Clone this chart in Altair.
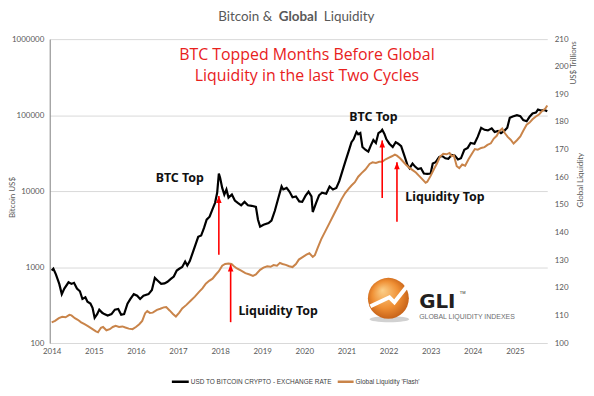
import altair as alt
import pandas as pd

# ---------------- data ----------------
btc_year = [2014.00, 2014.04, 2014.10, 2014.18, 2014.24, 2014.30, 2014.40, 2014.47, 2014.53, 2014.60,
            2014.67, 2014.73, 2014.80, 2014.85, 2014.92, 2014.97, 2015.02, 2015.08, 2015.13, 2015.20,
            2015.25, 2015.33, 2015.42, 2015.50, 2015.58, 2015.65, 2015.72, 2015.80, 2015.87, 2015.95,
            2016.03, 2016.10, 2016.18, 2016.30, 2016.38, 2016.45, 2016.52, 2016.60, 2016.68, 2016.75,
            2016.83, 2016.90, 2016.97, 2017.03, 2017.10, 2017.17, 2017.22, 2017.28, 2017.35, 2017.42,
            2017.48, 2017.55, 2017.62, 2017.68, 2017.75, 2017.82, 2017.88, 2017.93, 2017.97, 2018.00,
            2018.05, 2018.10, 2018.15, 2018.20, 2018.28, 2018.35, 2018.42, 2018.50, 2018.58, 2018.66,
            2018.75, 2018.85, 2018.90, 2018.95, 2019.03, 2019.15, 2019.22, 2019.30, 2019.38, 2019.46,
            2019.50, 2019.58, 2019.65, 2019.72, 2019.80, 2019.88, 2019.95, 2020.03, 2020.10, 2020.17,
            2020.20, 2020.28, 2020.35, 2020.42, 2020.52, 2020.60, 2020.68, 2020.76, 2020.83, 2020.90,
            2020.97, 2021.05, 2021.12, 2021.17, 2021.24, 2021.28, 2021.33, 2021.38, 2021.45, 2021.52,
            2021.58, 2021.64, 2021.70, 2021.76, 2021.82, 2021.85, 2021.90, 2021.95, 2022.02, 2022.10,
            2022.17, 2022.23, 2022.30, 2022.37, 2022.45, 2022.50, 2022.57, 2022.63, 2022.70, 2022.77,
            2022.84, 2022.92, 2023.00, 2023.05, 2023.12, 2023.20, 2023.27, 2023.35, 2023.42, 2023.50,
            2023.57, 2023.65, 2023.72, 2023.80, 2023.88, 2023.95, 2024.04, 2024.12, 2024.20, 2024.28,
            2024.36, 2024.45, 2024.52, 2024.60, 2024.67, 2024.75, 2024.82, 2024.88, 2024.95, 2025.05,
            2025.13, 2025.20, 2025.28, 2025.35, 2025.42, 2025.50, 2025.55, 2025.62, 2025.70, 2025.77]
btc_usd = [900, 950, 800, 600, 440, 520, 630, 600, 620, 520,
           480, 380, 400, 350, 330, 290, 215, 240, 275, 250,
           240, 230, 240, 275, 280, 235, 240, 330, 380, 440,
           420, 380, 420, 440, 500, 720, 660, 600, 610, 640,
           700, 750, 900, 950, 1000, 1180, 1050, 1200, 1550, 2000,
           2500, 2600, 3300, 4200, 4600, 5800, 7000, 9500, 17000, 15000,
           11000, 9000, 10500, 8200, 9000, 7500, 7000, 6500, 7200, 6500,
           6400, 6200, 4200, 3400, 3600, 3800, 4100, 5500, 8000, 11500,
           10500, 11000, 9800, 8300, 8500, 7300, 7200, 8700, 9800, 8500,
           5300, 7000, 8800, 9500, 9200, 11500, 10500, 11000, 13500, 18000,
           24000, 33000, 44000, 48000, 60000, 56000, 58000, 38000, 35000, 33000,
           40000, 47000, 43000, 58000, 61000, 64000, 57000, 48000, 42000, 38000,
           44000, 42000, 39000, 30000, 22000, 20000, 23000, 21000, 19500, 20000,
           17000, 16800, 17000, 23000, 24000, 28000, 29000, 27000, 26500, 30000,
           29500, 26000, 27000, 35000, 37000, 43000, 42000, 52000, 68000, 64000,
           63000, 67000, 60000, 62000, 58000, 62000, 68000, 92000, 96000, 100000,
           97000, 86000, 83000, 95000, 105000, 108000, 118000, 115000, 117000, 112000]

liq_year = [2014.00, 2014.08, 2014.17, 2014.25, 2014.33, 2014.42, 2014.47, 2014.55, 2014.62, 2014.70,
            2014.78, 2014.87, 2014.97, 2015.05, 2015.10, 2015.17, 2015.22, 2015.30, 2015.38, 2015.45,
            2015.52, 2015.60, 2015.68, 2015.75, 2015.83, 2015.92, 2016.00, 2016.08, 2016.15, 2016.22,
            2016.27, 2016.33, 2016.40, 2016.50, 2016.58, 2016.66, 2016.72, 2016.80, 2016.88, 2016.95,
            2017.03, 2017.10, 2017.20, 2017.30, 2017.40, 2017.50, 2017.58, 2017.66, 2017.74, 2017.82,
            2017.90, 2017.97, 2018.05, 2018.12, 2018.20, 2018.27, 2018.33, 2018.40, 2018.50, 2018.60,
            2018.70, 2018.78, 2018.85, 2018.95, 2019.03, 2019.12, 2019.20, 2019.27, 2019.35, 2019.42,
            2019.48, 2019.56, 2019.64, 2019.72, 2019.80, 2019.87, 2019.95, 2020.05, 2020.12, 2020.20,
            2020.25, 2020.32, 2020.40, 2020.50, 2020.60, 2020.70, 2020.80, 2020.88, 2020.97, 2021.05,
            2021.12, 2021.20, 2021.28, 2021.36, 2021.45, 2021.55, 2021.62, 2021.70, 2021.78, 2021.85,
            2021.93, 2022.00, 2022.08, 2022.15, 2022.20, 2022.28, 2022.35, 2022.42, 2022.50, 2022.58,
            2022.65, 2022.72, 2022.80, 2022.88, 2022.92, 2023.00, 2023.08, 2023.15, 2023.22, 2023.30,
            2023.38, 2023.45, 2023.50, 2023.55, 2023.62, 2023.68, 2023.75, 2023.82, 2023.90, 2023.98,
            2024.05, 2024.12, 2024.20, 2024.28, 2024.35, 2024.43, 2024.50, 2024.57, 2024.63, 2024.70,
            2024.76, 2024.83, 2024.90, 2024.97, 2025.05, 2025.13, 2025.20, 2025.28, 2025.35, 2025.42,
            2025.50, 2025.58, 2025.65, 2025.72, 2025.77]
liq_trn = [107.5, 108.0, 109.0, 109.5, 109.3, 110.2, 110.0, 109.0, 108.4, 107.5,
           106.8, 106.0, 105.0, 104.2, 103.9, 105.5, 105.8, 104.6, 105.0, 105.8,
           106.2, 105.8, 106.0, 105.6, 105.2, 105.0, 105.8, 106.8, 108.0, 110.8,
           111.6, 110.9, 111.0, 112.0, 112.4, 112.9, 113.0, 111.8, 110.5, 109.6,
           111.0, 112.5, 113.8, 115.3, 116.8, 118.5, 119.8, 121.5, 122.5, 123.3,
           124.8, 126.0, 128.0, 128.6, 128.8, 128.6, 127.8, 127.0, 126.2, 125.3,
           124.8, 124.3, 124.8, 126.5, 127.3, 127.8, 127.6, 128.2, 128.0, 129.0,
           128.6, 128.3, 127.8, 127.5, 128.6, 130.2, 131.0, 132.0, 132.5, 131.2,
           131.8, 134.5, 137.5, 140.5, 143.5, 146.5, 149.5, 152.0, 154.3, 155.8,
           157.0, 158.2, 160.2, 161.5, 162.8, 164.8, 165.4, 165.2, 165.6, 165.6,
           166.5, 167.0, 167.6, 168.2, 167.8, 166.8, 165.6, 164.4, 163.4, 162.5,
           161.7, 160.6, 159.3, 158.0, 158.4, 160.5, 163.0, 165.0, 167.4, 168.5,
           168.3, 168.8, 167.6, 168.0, 164.0, 163.3, 164.6, 164.2, 166.5, 168.5,
           170.2, 170.0, 170.6, 170.9, 171.7, 172.3, 174.0, 175.0, 176.7, 177.6,
           176.0, 174.6, 173.6, 172.2, 173.4, 174.8, 176.8, 179.0, 179.8, 181.0,
           182.0, 182.8, 184.0, 184.8, 186.0]

year_ticks = list(range(2014, 2026))
btc_ticks = [100, 1000, 10000, 100000, 1000000]
liq_ticks = list(range(100, 211, 10))

# "top" arrows (year, from, to) in Bitcoin US$ units
arrow_year = [2017.97, 2018.25, 2021.85, 2022.20]
arrow_from = [1450, 188, 8100, 3940]
arrow_to = [8600, 1080, 46400, 23900]

btc_name = "USD TO BITCOIN CRYPTO - EXCHANGE RATE"
liq_name = "Global Liquidity 'Flash'"

# ---------------- chart ----------------
GREY = "#595959"
ORANGE = "#c9844a"
RED = "#e8211c"
xscale = alt.Scale(domain=[2013.953, 2025.77], nice=False, zero=False)
btc_scale = alt.Scale(type="log", domain=[100, 1000000], nice=False)
liq_scale = alt.Scale(domain=[100, 210], nice=False, zero=False)

btc_df = pd.DataFrame({"year": btc_year, "btc": btc_usd})
liq_df = pd.DataFrame({"year": liq_year, "liq": liq_trn})
arr_df = pd.DataFrame({"year": arrow_year, "y0": arrow_from, "y1": arrow_to})
one = pd.DataFrame({"k": [0]})

btc_line = alt.Chart(btc_df).mark_line(color="#000000", strokeWidth=2.2).encode(
    x=alt.X("year:Q", scale=xscale, axis=alt.Axis(
        values=year_ticks, format="d", grid=False, domain=False, ticks=False,
        labelPadding=5, labelFontSize=8, labelColor=GREY, labelFont="Lato", title="")),
    y=alt.Y("btc:Q", scale=btc_scale, axis=alt.Axis(
        orient="left", values=btc_ticks, format="d", grid=True, gridColor="#d9d9d9",
        gridWidth=1, domain=True, domainColor="#7f7f7f", ticks=False, labelPadding=6,
        labelFontSize=8, labelColor=GREY, labelFont="Lato", title="Bitcoin US$",
        titleFont="Lato", titleFontSize=8, titleFontWeight="normal", titleColor=GREY,
        titleAngle=270, titleX=-37, titleY=159, titleAlign="center", titleBaseline="middle")),
)

liq_line = alt.Chart(liq_df).mark_line(color=ORANGE, strokeWidth=2).encode(
    x=alt.X("year:Q", scale=xscale),
    y=alt.Y("liq:Q", scale=liq_scale, axis=alt.Axis(
        orient="right", values=liq_ticks, grid=False, domain=False, ticks=False,
        labelPadding=7, labelFontSize=8, labelColor=GREY, labelFont="Lato", title="")),
)

arrow_shaft = alt.Chart(arr_df).mark_rule(color="#ff0000", strokeWidth=1.6).encode(
    x=alt.X("year:Q", scale=xscale),
    y=alt.Y("y0:Q", scale=btc_scale, axis=None),
    y2="y1:Q",
)
arrow_head = alt.Chart(arr_df).mark_point(
    shape="M 0 0 L 0.8 2 L -0.8 2 Z", filled=True, color="#ff0000", opacity=1, size=49,
).encode(
    x=alt.X("year:Q", scale=xscale),
    y=alt.Y("y1:Q", scale=btc_scale, axis=None),
)


def txt(text, x, y, **kw):
    return alt.Chart(one).mark_text(text=text, **kw).encode(x=alt.value(x), y=alt.value(y))


texts = [
    # page title
    txt("Bitcoin & ", 224, -29.5, font="Lato", fontSize=13.5, color=GREY, align="right", baseline="top"),
    txt("Global", 250, -29.5, font="Lato", fontSize=13.5, fontWeight="bold", color=GREY, align="center", baseline="top"),
    txt("Liquidity", 276, -29.5, font="Lato", fontSize=13.5, color=GREY, align="left", baseline="top"),
    # red headline
    txt("BTC Topped Months Before Global", 259, 16, font="Open Sans", fontSize=16, color=RED, align="center", baseline="middle"),
    txt("Liquidity in the last Two Cycles", 259, 37, font="Open Sans", fontSize=16, color=RED, align="center", baseline="middle"),
    # labels
    txt("BTC Top", 131, 140, font="Noto Sans", fontSize=12.5, fontWeight="bold", color="#111111", align="center", baseline="middle"),
    txt("BTC Top", 326, 78, font="Noto Sans", fontSize=12.5, fontWeight="bold", color="#111111", align="center", baseline="middle"),
    txt("Liquidity Top", 190, 274, font="Noto Sans", fontSize=12.5, fontWeight="bold", color="#111111", align="left", baseline="middle"),
    txt("Liquidity Top", 358, 159, font="Noto Sans", fontSize=12.5, fontWeight="bold", color="#111111", align="left", baseline="middle"),
    # right axis titles
    txt("US$ Trillions", 528, 24, font="Lato", fontSize=8, color=GREY, angle=270, align="center", baseline="middle"),
    txt("Global Liquidity", 535, 142, font="Lato", fontSize=8, color=GREY, angle=270, align="center", baseline="middle"),
    # legend
    txt(btc_name, 142, 345, font="Liberation Sans", fontSize=6.5, color="#404040", align="left", baseline="middle"),
    txt(liq_name, 308, 345, font="Liberation Sans", fontSize=6.5, color="#404040", align="left", baseline="middle"),
    # logo text
    txt("GLI", 372, 271, font="DejaVu Sans", fontSize=20, fontWeight="bold", color="#231f20", align="left", baseline="alphabetic"),
    txt("TM", 413, 256, font="Liberation Sans", fontSize=4, color="#231f20", align="left", baseline="middle"),
    txt("GLOBAL LIQUIDITY INDEXES", 372, 280, font="Liberation Sans", fontSize=7, color="#6d6e71", align="left", baseline="middle"),
]

legend_rules = [
    alt.Chart(one).mark_rule(color="#000000", strokeWidth=2.5).encode(
        x=alt.value(123), x2=alt.value(140), y=alt.value(345)),
    alt.Chart(one).mark_rule(color=ORANGE, strokeWidth=2.5).encode(
        x=alt.value(290), x2=alt.value(306), y=alt.value(345)),
]

sphere_fill = alt.Gradient(
    gradient="radial",
    stops=[alt.GradientStop(color="#fbd08a", offset=0),
           alt.GradientStop(color="#ef8f34", offset=0.55),
           alt.GradientStop(color="#b9530f", offset=1)],
    x1=0.35, y1=0.3, r1=0, x2=0.5, y2=0.5, r2=0.6,
)
logo = [
    alt.Chart(one).mark_point(
        shape="M -1 0 A 1 0.15 0 1 0 1 0 A 1 0.15 0 1 0 -1 0 Z",
        filled=True, color="#9a9a9a", opacity=0.45, size=1600,
    ).encode(x=alt.value(342), y=alt.value(282)),
    alt.Chart(one).mark_point(shape="circle", filled=True, color=sphere_fill, opacity=1,
                              size=1700, strokeWidth=0).encode(x=alt.value(341), y=alt.value(261)),
    alt.Chart(one).mark_point(
        shape="M -0.86 0.38 L 0.05 -0.05 L 0.29 0.19 L 1.0 -0.71",
        filled=False, color="#ffffff", opacity=1, strokeWidth=4, size=1764,
    ).encode(x=alt.value(341), y=alt.value(261)),
    alt.Chart(one).mark_point(
        shape="M 1.19 -0.95 L 1.09 -0.42 L 0.72 -0.72 Z",
        filled=True, color="#ffffff", opacity=1, size=1764,
    ).encode(x=alt.value(341), y=alt.value(261)),
]

chart = alt.layer(
    btc_line, liq_line, arrow_shaft, arrow_head, *legend_rules, *logo, *texts
).resolve_scale(y="independent").properties(
    width=501, height=306,
    autosize=alt.AutoSizeParams(type="none"),
    padding={"left": 42, "top": 30, "right": 39, "bottom": 50},
).configure_view(strokeWidth=0)

chart.save("out.html", embed_options={"renderer": "svg", "actions": False})
